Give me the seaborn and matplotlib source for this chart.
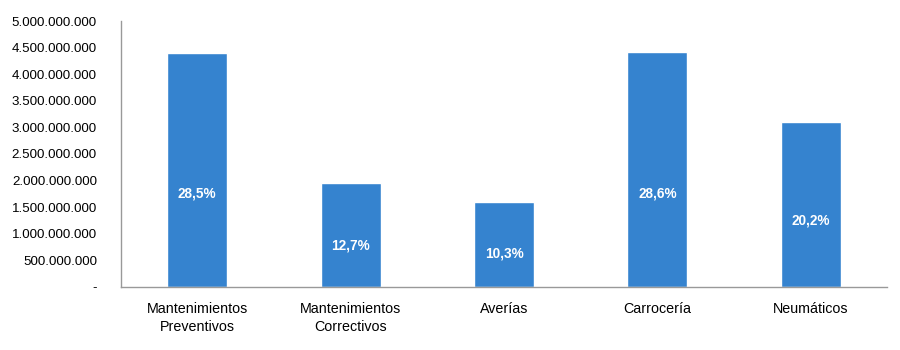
import pandas as pd
import matplotlib
matplotlib.use('Agg')
import matplotlib.pyplot as plt
import seaborn as sns
from matplotlib.ticker import FuncFormatter

# Datos
categorias = ['Mantenimientos\nPreventivos', 'Mantenimientos\nCorrectivos', 'Averías',
              'Carrocería', 'Neumáticos']
importes = [4.39e9, 1.96e9, 1.59e9, 4.41e9, 3.11e9]
porcentajes = ['28,5%', '12,7%', '10,3%', '28,6%', '20,2%']

df = pd.DataFrame({'Categoria': categorias, 'Importe': importes})

sns.set_style('white')
plt.rcParams['font.family'] = ['Liberation Sans', 'DejaVu Sans']

fig = plt.figure(figsize=(9, 3.5), dpi=100)
ax = fig.add_axes([0.134, 0.18, 0.852, 0.76])

sns.barplot(data=df, x='Categoria', y='Importe', color='#3583CF', saturation=1,
            width=0.39, ax=ax)

ax.set_ylim(0, 5e9)
ax.set_yticks([i * 5e8 for i in range(11)])


def formato(v, pos):
    if v == 0:
        return '-'
    return f'{int(round(v)):,}'.replace(',', '.')


ax.yaxis.set_major_formatter(FuncFormatter(formato))
ax.tick_params(axis='y', length=0, pad=17, labelsize=9.6, labelcolor='black')
ax.tick_params(axis='x', length=0, pad=11, labelsize=10.3, labelcolor='black')
for t in ax.get_xticklabels():
    t.set_linespacing(1.3)
ax.set_xlabel('')
ax.set_ylabel('')

for s in ['top', 'right']:
    ax.spines[s].set_visible(False)
for s in ['left', 'bottom']:
    ax.spines[s].set_color('#999999')
    ax.spines[s].set_linewidth(1)

# Porcentajes dentro de las barras
for i, (v, p) in enumerate(zip(importes, porcentajes)):
    ax.text(i, v * 0.4, p, ha='center', va='center', color='white',
            fontsize=9.8, fontweight='bold')

plt.savefig('out.png', dpi=100)
